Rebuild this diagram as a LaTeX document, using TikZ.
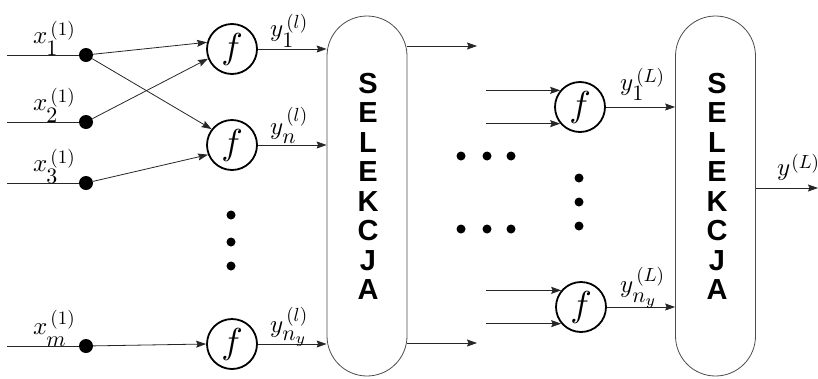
\documentclass[tikz,border=0pt]{standalone}
\usepackage{fontspec}
\setsansfont{Liberation Sans}
\usetikzlibrary{arrows.meta}

% scaled math piece
\newcommand{\mth}[2]{\scalebox{#1}{$#2$}}
% label: [superscript raise] main symbol, subscript, superscript, subscript drop
\newcommand{\lab}[5][8pt]{%
  \mth{2.5}{#2}%
  \kern-1pt\rlap{\raisebox{-#5}{\mth{2.2}{#3}}}%
  \kern4pt\raisebox{#1}{\mth{1.9}{#4}}}

\begin{document}
\begin{tikzpicture}[x=1pt,y=-1pt,
  wire/.style={draw=black!85, line width=0.8pt},
  arr/.style={wire, -{Stealth[length=10pt,width=7pt,inset=1.5pt]}},
  neuron/.style={circle, draw, line width=1.8pt, minimum size=50pt, inner sep=0pt},
  junction/.style={circle, fill=black, minimum size=14pt, inner sep=0pt},
  dotmark/.style={circle, fill=black, minimum size=9pt, inner sep=0pt},
  selbox/.style={rectangle, draw=black!70, line width=0.8pt, rounded corners=40pt,
    minimum width=80pt, minimum height=360pt, inner sep=0pt},
  seltext/.style={font=\fontsize{29}{29.5}\selectfont\sffamily\bfseries, align=center},
  lbl/.style={inner sep=0pt, anchor=base west}]

\useasboundingbox (0,0) rectangle (818,378);

% ---- first layer: inputs ----
\coordinate (s1) at (7,55);
\coordinate (s2) at (7,122);
\coordinate (s3) at (7,183);
\coordinate (sm) at (7,346);
\node[junction] (d1) at (86,55) {};
\node[junction] (d2) at (86,122) {};
\node[junction] (d3) at (86,183) {};
\node[junction] (dm) at (86,346) {};
\draw[wire] (s1) -- (d1);
\draw[wire] (s2) -- (d2);
\draw[wire] (s3) -- (d3);
\draw[wire] (sm) -- (dm);

\node[lbl] (lx1) at (33,43) {\lab{x}{1}{(1)}{12pt}};
\node[lbl] (lx2) at (33,110) {\lab{x}{2}{(1)}{12pt}};
\node[lbl] (lx3) at (33,171) {\lab{x}{3}{(1)}{12pt}};
\node[lbl] (lxm) at (33,334) {\lab[10pt]{x}{m}{(1)}{12pt}};

% ---- first layer: neurons ----
\node[neuron] (n1) at (232,49) {\mth{3.6}{f}};
\node[neuron] (n2) at (232,145) {\mth{3.6}{f}};
\node[neuron] (nn) at (232,344) {\mth{3.6}{f}};

\draw[arr] (d1) -- (n1.165);
\draw[arr] (d2) -- (n1.202);
\draw[arr] (d1) -- (n2.142);
\draw[arr] (d3) -- (n2.202);
\draw[arr] (dm) -- (nn.west);

\node[dotmark] (v1) at (231,215) {};
\node[dotmark] (v2) at (231,242) {};
\node[dotmark] (v3) at (231,266) {};

% ---- first selection block ----
\node[selbox] (b1) at (367,196) {};
\node[seltext] (t1) at (368,186.5) {S\\E\\L\\E\\K\\C\\J\\A};

\draw[arr] (n1.east) -- (n1.east -| b1.west);
\draw[arr] (n2.east) -- (n2.east -| b1.west);
\draw[arr] (nn.east) -- (nn.east -| b1.west);

\node[lbl] (ly1) at (270,36) {\lab{y}{1}{(l)}{11pt}};
\node[lbl] (lyn) at (270,134) {\lab[13pt]{y}{n}{(l)}{9pt}};
\node[lbl] (lyny) at (270,332) {\lab[11pt]{y}{n_y}{(l)}{8pt}};

\coordinate (o1) at (477,46);
\coordinate (o2) at (477,343);
\draw[arr] (b1.east |- o1) -- (o1);
\draw[arr] (b1.east |- o2) -- (o2);

% ---- intermediate layers ----
\node[dotmark] (h1) at (461,156) {};
\node[dotmark] (h2) at (487,156) {};
\node[dotmark] (h3) at (511,156) {};
\node[dotmark] (h4) at (461,229) {};
\node[dotmark] (h5) at (487,229) {};
\node[dotmark] (h6) at (511,229) {};

% ---- last layer: neurons ----
\node[neuron] (m1) at (580,107) {\mth{3.6}{f}};
\node[neuron] (m2) at (581,307) {\mth{3.6}{f}};

\coordinate (ia) at (486,0);
\draw[arr] (ia |- m1.140) -- (m1.140);
\draw[arr] (ia |- m1.220) -- (m1.220);
\draw[arr] (ia |- m2.140) -- (m2.140);
\draw[arr] (ia |- m2.220) -- (m2.220);

\node[dotmark] (w1) at (579,178) {};
\node[dotmark] (w2) at (579,202) {};
\node[dotmark] (w3) at (579,226) {};

% ---- last selection block ----
\node[selbox] (b2) at (715.5,196) {};
\node[seltext] (t2) at (717,186.5) {S\\E\\L\\E\\K\\C\\J\\A};

\draw[arr] (m1.east) -- (m1.east -| b2.west);
\draw[arr] (m2.east) -- (m2.east -| b2.west);

\node[lbl] (lz1) at (620,90) {\lab{y}{1}{(L)}{10pt}};
\node[lbl] (lzn) at (620,292) {\lab[11pt]{y}{n_y}{(L)}{10pt}};

\coordinate (out) at (818,188);
\draw[arr] (b2.east |- out) -- (out);
\node[lbl] (lout) at (777,175) {\mth{2.5}{y}\kern1pt\raisebox{7pt}{\mth{1.9}{(L)}}};

\end{tikzpicture}
\end{document}
